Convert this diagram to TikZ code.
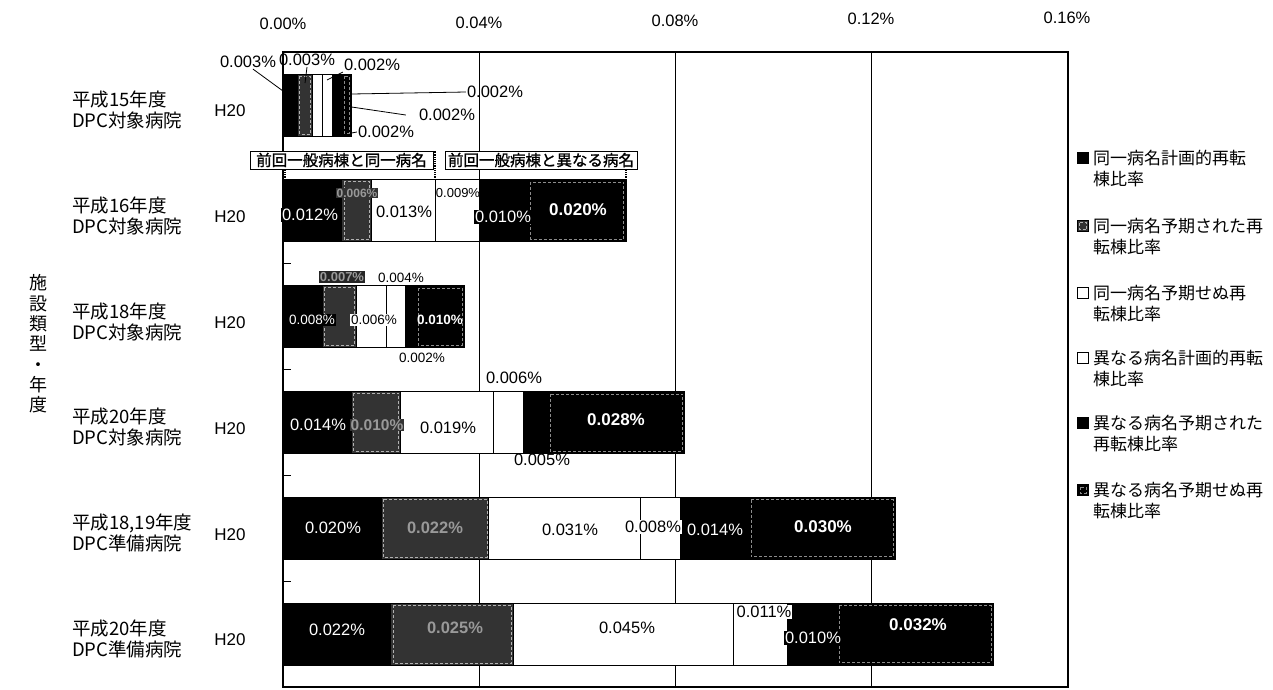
\documentclass[tikz,border=0pt]{standalone}
\usepackage{fontspec}
\setmainfont{Liberation Sans}
\newfontfamily\jp{Noto Sans CJK JP}
\newfontfamily\jpb{Noto Sans CJK JP}[FakeBold=1.2]
\usetikzlibrary{positioning}

\begin{document}
\begin{tikzpicture}[x=1pt, y=-1pt,
  frame/.style={draw=black, line width=1.2pt},
  grid/.style={draw=black, line width=0.9pt},
  seg/.style={draw=black, line width=0.8pt},
  samep/.style={seg, fill=black},
  sameg/.style={seg, fill=black!80, path picture={\draw[white!70!black, densely dashed, line width=0.6pt] ([shift={(2pt,-2pt)}]path picture bounding box.north west) rectangle ([shift={(-2pt,2pt)}]path picture bounding box.south east);}},
  sameu/.style={seg, fill=white},
  diffp/.style={seg, fill=white},
  diffe/.style={seg, fill=black},
  diffu/.style={seg, fill=black, path picture={\draw[white!55!black, densely dashed, line width=0.6pt] ([shift={(2.5pt,-2.5pt)}]path picture bounding box.north west) rectangle ([shift={(-2.5pt,2.5pt)}]path picture bounding box.south east);}},
  val/.style={font=\fontsize{16.5}{16.5}\selectfont, inner sep=1pt},
  sml/.style={font=\fontsize{13.5}{13.5}\selectfont},
  valw/.style={val, text=white},
  valb/.style={val, text=white, font=\fontsize{17}{17}\selectfont\bfseries},
  valg/.style={val, text=black!40, font=\fontsize{16.5}{16.5}\selectfont\bfseries},
  lead/.style={draw=black, line width=0.8pt},
  brk/.style={draw=black, densely dotted, line width=1.2pt},
  axl/.style={font=\fontsize{16.5}{16.5}\selectfont},
  cat/.style={font=\jp\fontsize{18.5}{21}\selectfont, align=left, anchor=west, inner sep=0pt},
  hh/.style={font=\fontsize{17}{17}\selectfont},
  note/.style={draw=black, line width=0.9pt, fill=white, inner sep=0pt, minimum height=18pt, font=\jpb\fontsize{15.5}{15.5}\selectfont},
  legt/.style={font=\jp\fontsize{17}{17}\selectfont, anchor=west, inner sep=0pt},
  legbox/.style={draw=black, line width=0.8pt, minimum size=11pt, inner sep=0pt},
]
\fill[white] (0,0) rectangle (1273,689);
\useasboundingbox (0,0) rectangle (1273,689);

\def\xo{283}
\def\xe{1068}
\def\ytop{52}
\def\ybot{687}
\def\sc{4.9}
\def\bh{31}

\def\ya{104.9}
\def\yb{210.7}
\def\yc{316.6}
\def\yd{422.4}
\def\ye{528.2}
\def\yf{634.1}

% grid and frame
\foreach \g in {40,80,120}
  \draw[grid] ({\xo+\sc*\g},\ytop) -- ({\xo+\sc*\g},\ybot);
\draw[frame] (\xo,\ytop) rectangle (\xe,\ybot);
\foreach \k in {1,...,5}
  \draw[frame] (\xo,{\ytop+105.83*\k}) -- ++(8,0);

\foreach \v/\t in {0/0.00,40/0.04,80/0.08,120/0.12,160/0.16}
  \node[axl] (ax\v) at ({\xo+\sc*\v},{24-\v/25}) {\t\%};

% categories
\node[font=\jp\fontsize{18}{20.3}\selectfont, align=center, inner sep=0pt] (ytitle) at (38,344) {施\\設\\類\\型\\・\\年\\度};
\node[cat] (cat1) at (72,{\ya+5}) {平成15年度\\DPC対象病院};
\node[cat] (cat2) at (72,{\yb+5}) {平成16年度\\DPC対象病院};
\node[cat] (cat3) at (72,{\yc+5}) {平成18年度\\DPC対象病院};
\node[cat] (cat4) at (72,{\yd+5}) {平成20年度\\DPC対象病院};
\node[cat] (cat5) at (72,{\ye+5}) {平成18,19年度\\DPC準備病院};
\node[cat] (cat6) at (72,{\yf+5}) {平成20年度\\DPC準備病院};
\foreach \i/\y in {1/\ya,2/\yb,3/\yc,4/\yd,5/\ye,6/\yf}
  \node[hh] (h\i) at (230,{\y+6}) {H20};

% bars
\foreach \a/\b/\st in {0/3/samep,3/6/sameg,6/8/sameu,8/10/diffp,10/12/diffe,12/14/diffu}
  \draw[\st] ({\xo+\sc*\a},{\ya-\bh}) rectangle ({\xo+\sc*\b},{\ya+\bh});
\foreach \a/\b/\st in {0/12/samep,12/18/sameg,18/31/sameu,31/40/diffp,40/50/diffe,50/70/diffu}
  \draw[\st] ({\xo+\sc*\a},{\yb-\bh}) rectangle ({\xo+\sc*\b},{\yb+\bh});
\foreach \a/\b/\st in {0/8/samep,8/15/sameg,15/21/sameu,21/25/diffp,25/27/diffe,27/37/diffu}
  \draw[\st] ({\xo+\sc*\a},{\yc-\bh}) rectangle ({\xo+\sc*\b},{\yc+\bh});
\foreach \a/\b/\st in {0/14/samep,14/24/sameg,24/43/sameu,43/49/diffp,49/54/diffe,54/82/diffu}
  \draw[\st] ({\xo+\sc*\a},{\yd-\bh}) rectangle ({\xo+\sc*\b},{\yd+\bh});
\foreach \a/\b/\st in {0/20/samep,20/42/sameg,42/73/sameu,73/81/diffp,81/95/diffe,95/125/diffu}
  \draw[\st] ({\xo+\sc*\a},{\ye-\bh}) rectangle ({\xo+\sc*\b},{\ye+\bh});
\foreach \a/\b/\st in {0/22/samep,22/47/sameg,47/92/sameu,92/103/diffp,103/113/diffe,113/145/diffu}
  \draw[\st] ({\xo+\sc*\a},{\yf-\bh}) rectangle ({\xo+\sc*\b},{\yf+\bh});

% notes above the second bar
\node[note, minimum width=183pt] (box1) at (341.5,160) {前回一般病棟と同一病名};
\node[note, minimum width=192pt] (box2) at (541,160) {前回一般病棟と異なる病名};
\coordinate (t1) at (285,{\yb-\bh});
\coordinate (t2) at ({\xo+\sc*31},{\yb-\bh});
\coordinate (t3) at ({\xo+\sc*70},{\yb-\bh});
\draw[brk] (t1) -- (t1 |- box1.south);
\draw[brk] (t2) -- (t2 |- box1.north);
\draw[brk] (t3) -- (t3 |- box2.south);

% row 1 labels
\node[val] (l1a) at (248,62) {0.003\%};
\node[val] (l1b) at (307,60) {0.003\%};
\node[val] (l1c) at (372,65) {0.002\%};
\node[val] (l1d) at (495,92) {0.002\%};
\node[val] (l1e) at (447,115) {0.002\%};
\node[val] (l1f) at (386,132) {0.002\%};
\coordinate (p1a) at (\xo,91);
\coordinate (p1b) at (305,83);
\coordinate (p1c) at (327,80);
\coordinate (p1d) at ({\xo+\sc*14},94);
\coordinate (p1e) at ({\xo+\sc*14},107);
\coordinate (p1f) at ({\xo+\sc*14},133);
\draw[lead] (l1a.-55) -- (p1a);
\draw[lead] (l1b.south) -- (p1b);
\draw[lead] (l1c.south west) -- (p1c);
\draw[lead] (p1d) -- (l1d.west);
\draw[lead] (p1e) -- ([xshift=-12pt]l1e.west);
\draw[lead] (p1f) -- (l1f.west);

% row 2 labels
\node[valw, fill=black] (l2a) at (310,215) {0.012\%};
\node[valg, fill=black!80, font=\fontsize{12}{12}\selectfont\bfseries] (l2b) at (357,193) {0.006\%};
\node[val] (l2c) at (404,212) {0.013\%};
\node[val, font=\fontsize{13}{13}\selectfont] (l2d) at (458,193) {0.009\%};
\node[valw, fill=black] (l2e) at (503,217) {0.010\%};
\node[valb] (l2f) at (578,210) {0.020\%};

% row 3 labels
\node[valg, fill=black!85, font=\fontsize{13}{13}\selectfont\bfseries] (l3a) at (342,277) {0.007\%};
\node[val, sml] (l3b) at (401,278) {0.004\%};
\node[valw, sml, fill=black] (l3c) at (312,320) {0.008\%};
\node[val, sml, fill=white] (l3d) at (374,320) {0.006\%};
\node[valb, font=\fontsize{13.5}{13.5}\selectfont\bfseries] (l3e) at (440,320) {0.010\%};
\node[val, sml] (l3f) at (422,358) {0.002\%};

% row 4 labels
\node[valw] (l4a) at (318,425) {0.014\%};
\node[valg, fill=black!80, font=\fontsize{15.5}{15.5}\selectfont\bfseries] (l4b) at (377,425) {0.010\%};
\node[val] (l4c) at (448,428) {0.019\%};
\node[val] (l4d) at (514,378) {0.006\%};
\node[val] (l4e) at (542,460) {0.005\%};
\node[valb] (l4f) at (616,420) {0.028\%};

% row 5 labels
\node[valw] (l5a) at (333,528) {0.020\%};
\node[valg] (l5b) at (435,528) {0.022\%};
\node[val] (l5c) at (570,530) {0.031\%};
\node[val, fill=white] (l5d) at (653,527) {0.008\%};
\node[valw] (l5e) at (715,530) {0.014\%};
\node[valb] (l5f) at (823,527) {0.030\%};

% row 6 labels
\node[valw] (l6a) at (337,630) {0.022\%};
\node[valg] (l6b) at (455,628) {0.025\%};
\node[val] (l6c) at (627,628) {0.045\%};
\node[val, fill=white] (l6d) at (764,612) {0.011\%};
\node[valw, fill=black] (l6e) at (813,638) {0.010\%};
\node[valb] (l6f) at (918,625) {0.032\%};

% legend
\foreach \i/\y/\st/\ta/\tb in {1/158/samep/同一病名計画的再転/棟比率,
    2/226/sameg/同一病名予期された再/転棟比率,
    3/293/sameu/同一病名予期せぬ再/転棟比率,
    4/358/diffp/異なる病名計画的再転/棟比率,
    5/423/diffe/異なる病名予期された/再転棟比率,
    6/490/diffu/異なる病名予期せぬ再/転棟比率} {
  \node[legbox, \st] (icon\i) at (1083,\y) {};
  \node[legt] (leg\i) at (1093,\y) {\ta};
  \node[legt] (leg\i b) at (1093,{\y+21}) {\tb};
}
\end{tikzpicture}
\end{document}
